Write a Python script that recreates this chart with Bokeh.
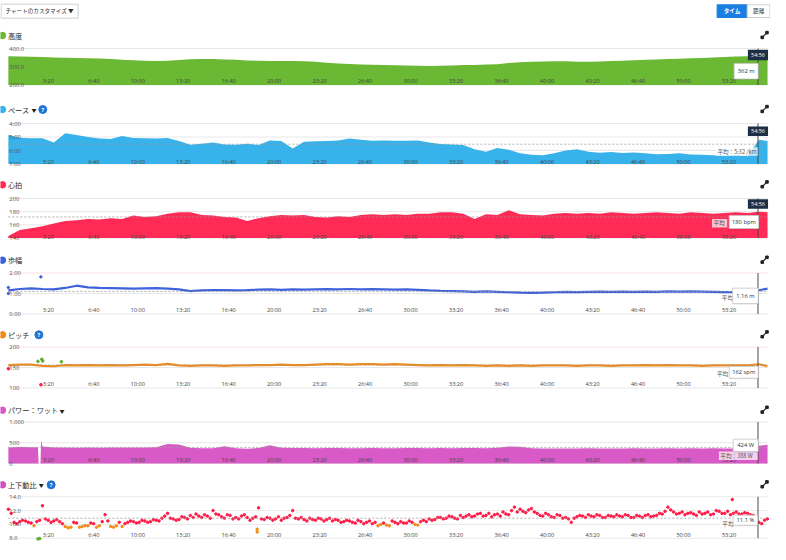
from bokeh.plotting import figure
from bokeh.models import Range1d
from bokeh.core.properties import value
from bokeh.embed import file_html
from bokeh.resources import INLINE

# ---------------- data (time in seconds) ----------------
t_grid = [0, 50, 100, 150, 200, 250, 300, 350, 400, 450, 500, 550, 600, 650, 700, 750,
          800, 850, 900, 950, 1000, 1050, 1100, 1150, 1200, 1250, 1300, 1350, 1400, 1450,
          1500, 1550, 1600, 1650, 1700, 1750, 1800, 1850, 1900, 1950, 2000, 2050, 2100,
          2150, 2200, 2250, 2300, 2350, 2400, 2450, 2500, 2550, 2600, 2650, 2700, 2750,
          2800, 2850, 2900, 2950, 3000, 3050, 3100, 3150, 3200, 3250, 3300, 3338]

elevation_m = [358, 356, 355, 353, 351, 350, 348, 346, 345, 342, 339, 336, 333, 331, 333, 337,
               341, 343, 342, 340, 338, 334, 333, 332, 331, 331, 330, 327, 322, 318,
               315, 313, 311, 309, 308, 307, 305, 304, 305, 307, 309, 310, 312,
               314, 320, 325, 327, 329, 330, 330, 328, 327, 329, 331, 333, 335,
               338, 340, 342, 344, 346, 348, 351, 354, 356, 358, 361, 363]

pace_min_per_km = [4.85, 5.05, 5.10, 5.10, 5.40, 4.72, 4.85, 5.00, 5.12, 5.14, 4.92, 5.08, 5.10, 5.12, 5.08, 5.30,
                   5.57, 5.50, 5.40, 5.55, 5.57, 5.50, 5.60, 5.25, 5.30, 5.85, 5.35, 5.32, 5.30, 5.25,
                   5.12, 5.20, 5.27, 5.25, 5.28, 5.27, 5.25, 5.40, 5.52, 5.55, 5.60, 5.90, 6.10,
                   5.82, 5.95, 6.20, 6.32, 6.35, 6.20, 6.00, 5.90, 6.10, 6.16, 6.12, 6.18, 6.15,
                   6.20, 6.28, 6.25, 6.20, 6.30, 6.32, 6.35, 6.38, 6.35, 6.40, 5.20, 5.30]

heart_rate_bpm = [143, 152, 155, 158, 162, 166, 167, 169, 168, 170, 169, 174, 172, 173, 177, 179,
                  179, 175, 174, 172, 171, 166, 170, 173, 175, 174, 175, 172, 171, 173,
                  172, 175, 176, 175, 176, 175, 177, 177, 179, 179, 177, 169, 176,
                  175, 182, 176, 175, 174, 177, 178, 177, 178, 177, 179, 178, 177,
                  178, 179, 178, 177, 179, 178, 177, 178, 179, 178, 180, 179]

stride_m = [1.15, 1.22, 1.25, 1.22, 1.20, 1.27, 1.38, 1.30, 1.27, 1.26, 1.25, 1.24, 1.25, 1.26, 1.24, 1.20,
            1.12, 1.15, 1.17, 1.16, 1.15, 1.16, 1.19, 1.20, 1.18, 1.20, 1.19, 1.20, 1.21, 1.20,
            1.22, 1.20, 1.21, 1.20, 1.19, 1.20, 1.18, 1.15, 1.13, 1.12, 1.10, 1.08, 1.10,
            1.08, 1.06, 1.04, 1.03, 1.04, 1.06, 1.08, 1.07, 1.08, 1.09, 1.08, 1.09, 1.08,
            1.09, 1.08, 1.10, 1.09, 1.10, 1.09, 1.08, 1.07, 1.06, 1.08, 1.16, 1.24]
stride_extra_t = [0, 0, 143]
stride_extra_m = [1.00, 1.29, 1.81]

cadence_spm = [156, 157, 157, 154, 153, 156, 155, 156, 155, 156, 155, 156, 157, 156, 159, 155,
               154, 155, 155, 154, 155, 155, 156, 156, 157, 156, 156, 157, 158, 158,
               157, 158, 158, 157, 158, 157, 156, 155, 156, 155, 156, 155, 154,
               155, 154, 155, 154, 155, 155, 155, 154, 155, 155, 154, 155, 155,
               156, 155, 156, 155, 155, 154, 155, 155, 155, 155, 158, 153]
cadence_extra_t = [0, 130, 143, 147, 151, 233]
cadence_extra_spm = [147, 165, 108, 170, 166, 164]

power_t = [0, 50, 100, 130, 133, 141, 144, 150,
           200, 250, 300, 350, 400, 450, 500, 550, 600, 650, 700, 750, 800, 850, 900, 950,
           1000, 1050, 1100, 1150, 1200, 1250, 1300, 1350, 1400, 1450, 1500, 1550, 1600, 1650,
           1700, 1750, 1800, 1850, 1900, 1950, 2000, 2050, 2100, 2150, 2200, 2250, 2300, 2350,
           2400, 2450, 2500, 2550, 2600, 2650, 2700, 2750, 2800, 2850, 2900, 2950, 3000, 3050,
           3100, 3150, 3200, 3250, 3300, 3338]
power_w = [388, 395, 392, 390, 0, 0, 560, 410,
           385, 388, 382, 386, 380, 387, 384, 386, 383, 390, 470, 458, 378, 366, 368, 418,
           366, 356, 372, 440, 382, 372, 374, 368, 376, 372, 370, 368, 374, 370,
           368, 373, 376, 370, 372, 368, 372, 376, 370, 380, 412, 402, 366, 362,
           364, 360, 362, 365, 360, 364, 362, 366, 360, 364, 368, 362, 365, 362,
           366, 362, 364, 362, 425, 450]

VR_STEP_S = 25  # recording interval of the vertical-ratio samples
vr_pct_a = [12.2, 10.3, 10.4, 10.5, 10.2, 10.4, 12.7, 10.6, 10.5, 10.4,
            9.7, 9.6, 10.2, 9.7, 9.8, 10.1, 9.8, 11.4, 9.7, 9.8,
            9.7, 10.3, 10.4, 10.3, 10.5, 10.4, 10.6, 10.9, 11.6, 10.8,
            10.7, 11.0, 11.3, 11.5, 11.0, 11.2, 12.0, 11.4, 10.9, 11.3,
            11.0, 11.2, 11.0, 10.9, 12.4, 10.7, 10.9, 10.8, 10.6, 11.0,
            12.0, 10.8, 10.7, 10.9, 10.6, 10.8, 10.7, 10.5, 10.6, 10.4,
            10.5, 10.2, 10.4, 10.3, 10.1, 9.8, 10.2, 9.8, 10.3, 10.4,
            10.2, 10.3, 9.9, 10.6, 10.8, 10.7, 11.0, 10.9, 11.1, 10.8,
            11.0, 11.4, 11.2, 11.6, 11.3, 11.1, 11.5, 11.8, 11.4, 12.5,
            12.2, 11.7, 12.3, 11.6, 11.2, 11.4, 11.0, 11.3, 11.0, 10.3,
            11.1, 11.2, 11.4, 11.1, 11.3, 11.0, 11.2, 11.4, 11.1, 11.3,
            11.0, 11.2, 11.3, 11.1, 11.3, 11.5, 12.5, 11.8, 11.6, 11.4,
            11.7, 11.3, 11.5, 11.8, 11.5, 11.9, 11.6, 11.4, 11.8, 11.5,
            11.6, 11.3, 10.3, 10.6]
vr_pct_b = [11.6, 10.1, 10.6, 10.3, 9.8, 10.6, 10.8, 10.3, 10.7, 10.1,
            9.5, 10.3, 9.6, 9.8, 10.2, 9.6, 10.4, 10.5, 9.6, 10.3,
            10.1, 10.5, 10.2, 10.6, 10.3, 10.7, 10.5, 11.2, 10.9, 10.6,
            11.1, 10.8, 11.0, 11.2, 11.4, 10.9, 11.5, 11.1, 11.4, 10.8,
            10.8, 11.4, 10.6, 11.1, 10.8, 11.0, 10.6, 11.1, 10.9, 11.3,
            10.9, 11.0, 10.5, 10.7, 10.9, 10.5, 10.9, 10.7, 10.3, 10.6,
            10.3, 10.6, 10.1, 10.5, 10.3, 10.0, 9.9, 10.5, 10.1, 10.2,
            10.5, 10.0, 10.4, 10.4, 10.6, 11.0, 10.8, 11.2, 10.9, 11.3,
            11.2, 11.1, 11.5, 11.2, 11.6, 11.4, 11.2, 11.5, 12.0, 11.8,
            11.9, 12.1, 11.8, 11.3, 11.6, 11.1, 11.4, 10.9, 10.8, 10.9,
            11.3, 11.0, 11.2, 11.4, 11.0, 11.3, 11.1, 11.2, 11.4, 11.0,
            11.3, 11.0, 11.4, 11.2, 11.6, 11.9, 12.1, 11.5, 11.8, 11.6,
            11.5, 11.8, 11.6, 11.4, 12.0, 11.6, 11.9, 11.6, 11.5, 11.7,
            11.4, 11.0, 10.1, 10.8]
vr_extra_t = [130, 138, 1094, 1094, 3183]
vr_extra_pct = [7.9, 7.95, 9.3, 8.9, 13.6]

time_ticks = [200, 400, 600, 800, 1000, 1200, 1400, 1600, 1800, 2000, 2200, 2400, 2600, 2800, 3000, 3200]
time_tick_labels = ["3:20", "6:40", "10:00", "13:20", "16:40", "20:00", "23:20", "26:40", "30:00",
                    "33:20", "36:40", "40:00", "43:20", "46:40", "50:00", "53:20"]
T_END = 3338
cursor_t = 3296
cursor_values = ["362 m", "180 bpm", "1.16 m", "162 spm", "424 W", "11.1 %"]
pace_avg_label = "平均：5:32 /km"
pace_avg = 5 + 32 / 60
hr_avg = 172
stride_avg = 1.10
cadence_avg = 156
power_avg = 388
vr_avg = 10.9

# ---------------- colours / fonts ----------------
C_ELEV = "#6ab833"
C_PACE = "#37b2ea"
C_HR = "#ff2a55"
C_STRIDE = "#3e62db"
C_CAD = "#f28a16"
C_POWER = "#d85ac6"
C_VR = "#d14fc0"
Z_RED = "#ff1a47"
Z_ORANGE = "#f08c1a"
Z_GREEN = "#5ab02d"
Z_BLUE = "#2f8be0"
GRID = "#e8e8e8"
PINK = "#fbe0e6"
JP = "Noto Sans CJK JP"
NUM = "Open Sans"


def cadence_zone_color(v):
    if v < 153:
        return Z_RED
    if v < 164:
        return Z_ORANGE
    if v < 174:
        return Z_GREEN
    return Z_BLUE


def vr_zone_color(v):
    if v > 10.0:
        return Z_RED
    if v > 8.6:
        return Z_ORANGE
    return Z_GREEN


# ---------------- layout helpers ----------------
W, H = 770, 544
SX = W / 783.0


def fx(ref_x):
    return (ref_x - 3.0) * SX


PLOT_L = fx(11)
PLOT_R = fx(783)
K = T_END / (PLOT_R - PLOT_L)


def rt(ref_x):          # reference pixel x -> data seconds
    return (fx(ref_x) - PLOT_L) * K


def fy(ref_y):          # reference pixel y -> frame pixel y
    return ref_y - 8.0


p = figure(width=W, height=H, x_range=Range1d(rt(3), rt(786)), y_range=Range1d(H, 0),
           output_backend="svg", toolbar_location=None, min_border=0,
           x_axis_location=None, y_axis_location=None)
p.xgrid.grid_line_color = None
p.ygrid.grid_line_color = None
p.outline_line_color = None
p.background_fill_color = "white"
p.border_fill_color = "white"

panels = [
    dict(name="elev", ticks=[200, 300, 400], labels=["200.0", "300.0", "400.0"], top=(400, 56), bot=(200, 92.5), xlab=88, title="高度", ty=43, color=C_ELEV, toppink=False),
    dict(name="pace", ticks=[4, 5, 6, 7], labels=["4:00", "5:00", "6:00", "7:00"], top=(4, 131), bot=(7, 171.5), xlab=169, title="ペース", ty=117, color=C_PACE, toppink=False),
    dict(name="hr", ticks=[140, 160, 180, 200], labels=["140", "160", "180", "200"], top=(200, 206), bot=(140, 245.5), xlab=244, title="心拍", ty=192.3, color=C_HR, toppink=False),
    dict(name="stride", ticks=[0, 1, 2], labels=["0.00", "1.00", "2.00"], top=(2, 280.5), bot=(0, 321.5), xlab=317.7, title="歩幅", ty=267.7, color=C_STRIDE, toppink=True),
    dict(name="cad", ticks=[100, 150, 200], labels=["100", "150", "200"], top=(200, 354.5), bot=(100, 395.5), xlab=391.7, title="ピッチ", ty=342.3, color=C_CAD, toppink=True),
    dict(name="power", ticks=[0, 500, 1000], labels=["0", "500", "1,000"], top=(1000, 429.5), bot=(0, 471), xlab=467.7, title="パワー：ワット", ty=417.7, color=C_POWER, toppink=False),
    dict(name="vr", ticks=[8, 10, 12, 14], labels=["8.0", "10.0", "12.0", "14.0"], top=(14, 504.3), bot=(8, 545.7), xlab=542, title="上下動比", ty=492.3, color=C_VR, toppink=False),
]

ranges = {}
for pn in panels:
    (vt, ryt), (vb, ryb) = pn["top"], pn["bot"]
    yt, yb = fy(ryt), fy(ryb)
    s = (vb - vt) / (yb - yt)
    ranges[pn["name"]] = Range1d(start=vt + (H - yt) * s, end=vt + (0 - yt) * s)
p.extra_y_ranges = ranges


def txt(xs, ys, texts, size, color="#333", font=NUM, align="left", baseline="middle",
        rn="default", bold=False, x_offset=0):
    p.text(x=xs, y=ys, text=texts, text_font=value(font), text_font_size=f"{size}px",
           text_color=color, text_align=align, text_baseline=baseline,
           text_font_style="bold" if bold else "normal", x_offset=x_offset, y_range_name=rn)


# gridlines
for pn in panels:
    n = len(pn["ticks"])
    cols = [GRID] * n
    if pn["toppink"]:
        cols[pn["ticks"].index(max(pn["ticks"]))] = PINK
    p.segment(x0=[0] * n, x1=[T_END] * n, y0=pn["ticks"], y1=pn["ticks"], line_color=cols,
              line_width=1, y_range_name=pn["name"])

# series
p.varea(x=t_grid, y1=[200] * len(t_grid), y2=elevation_m, fill_color=C_ELEV, y_range_name="elev")
p.varea(x=t_grid, y1=[7] * len(t_grid), y2=pace_min_per_km, fill_color=C_PACE, y_range_name="pace")
p.varea(x=t_grid, y1=[140] * len(t_grid), y2=heart_rate_bpm, fill_color=C_HR, y_range_name="hr")
p.varea(x=power_t, y1=[0] * len(power_t), y2=power_w, fill_color=C_POWER, y_range_name="power")

p.line(t_grid, stride_m, line_color=C_STRIDE, line_width=2.2, y_range_name="stride")
p.scatter(stride_extra_t, stride_extra_m, size=2.4, color=C_STRIDE, y_range_name="stride")

p.line(t_grid, cadence_spm, line_color=C_CAD, line_width=2.2, y_range_name="cad")
p.scatter(cadence_extra_t, cadence_extra_spm, size=2.6, color=[cadence_zone_color(v) for v in cadence_extra_spm], y_range_name="cad")

vr_t_a = [i * VR_STEP_S for i in range(len(vr_pct_a))]
vr_t_b = [i * VR_STEP_S + VR_STEP_S / 2 for i in range(len(vr_pct_b))]
vr_t = vr_t_a + vr_t_b + vr_extra_t
vr_v = vr_pct_a + vr_pct_b + vr_extra_pct
p.scatter(vr_t, vr_v, size=2.5, color=[vr_zone_color(v) for v in vr_v], y_range_name="vr")

# average dashed lines
for name, av in [("pace", pace_avg), ("hr", hr_avg), ("stride", stride_avg), ("cad", cadence_avg), ("power", power_avg), ("vr", vr_avg)]:
    p.segment(x0=[0], x1=[T_END], y0=[av], y1=[av], line_color="#9a9a9a", line_width=0.8,
              line_dash="2 2", y_range_name=name)

# axis labels
for pn in panels:
    n = len(pn["ticks"])
    txt([0] * n, pn["ticks"], pn["labels"], 5.8, color="#555", rn=pn["name"], x_offset=1)
    txt(time_ticks, [fy(pn["xlab"])] * len(time_ticks), time_tick_labels, 5.6, color="#444", align="right")

# cursor lines
for pn in panels:
    p.segment(x0=[cursor_t], x1=[cursor_t], y0=[pn["top"][0]], y1=[pn["bot"][0]], line_color="#4a4a4a",
              line_width=1, y_range_name=pn["name"])

# average labels
avg_boxes = [(pace_avg_label, 730.5, 773, 159.0), ("平均", 726.5, 742, 230.7), ("平均", 735, 750, 305.7),
             ("平均", 730, 745.5, 381.7), (f"平均：{power_avg} W", 733.5, 773, 463.3), ("平均", 735.5, 750, 531.7)]
p.quad(left=[rt(b[1]) for b in avg_boxes], right=[rt(b[2]) for b in avg_boxes],
       top=[fy(b[3] - 4.3) for b in avg_boxes], bottom=[fy(b[3] + 4.3) for b in avg_boxes],
       fill_color="white", fill_alpha=0.72, line_color=None)
txt([rt(b[1] + 1.5) for b in avg_boxes], [fy(b[3]) for b in avg_boxes], [b[0] for b in avg_boxes], 5.6,
    color="#555", font=JP)

# value tooltips at the cursor
tips = [(749, 773.5, 71, 86.5), (744, 774, 223, 236), (747.5, 773.5, 295.7, 311),
        (744, 773.5, 374, 385.7), (748, 773.5, 446.7, 459), (748, 773, 522.7, 532.7)]
p.quad(left=[rt(t[0] + 1) for t in tips], right=[rt(t[1] + 1) for t in tips],
       top=[fy(t[2] + 1) for t in tips], bottom=[fy(t[3] + 1) for t in tips],
       fill_color="black", fill_alpha=0.12, line_color=None)
p.quad(left=[rt(t[0]) for t in tips], right=[rt(t[1]) for t in tips],
       top=[fy(t[2]) for t in tips], bottom=[fy(t[3]) for t in tips],
       fill_color="white", line_color="#c8c8c8", line_width=0.8)
txt([rt((t[0] + t[1]) / 2) for t in tips], [fy((t[2] + t[3]) / 2) for t in tips], cursor_values, 5.8,
    color="#333", align="center")

# cursor time boxes
cursor_label = f"{cursor_t // 60}:{cursor_t % 60:02d}"
cb = [(57.3, 67.7), (134, 143.5), (206.7, 216.3)]
p.quad(left=[rt(763)] * 3, right=[rt(783.5)] * 3, top=[fy(c[0]) for c in cb], bottom=[fy(c[1]) for c in cb],
       fill_color="#1c2f45", line_color=None)
txt([cursor_t] * 3, [fy((c[0] + c[1]) / 2) for c in cb], [cursor_label] * 3, 5.4, color="white", align="center")

# panel titles
p.scatter([rt(5)] * len(panels), [fy(pn["ty"]) for pn in panels], size=6.5,
          color=[pn["color"] for pn in panels])
txt([rt(10.5)] * len(panels), [fy(pn["ty"]) for pn in panels], [pn["title"] for pn in panels], 7.2,
    color="#2a2a2a", font=JP)
txt([rt(37), rt(65.5), rt(44.5)], [fy(117), fy(417.7), fy(492.3)], ["▼", "▼", "▼"], 5.0,
    color="#222", font=JP, align="center")
q_xy = [(46, 117), (42, 342.3), (54.5, 492.3)]
p.scatter([rt(q[0]) for q in q_xy], [fy(q[1]) for q in q_xy], size=8, color="#1f74d6")
txt([rt(q[0]) for q in q_xy], [fy(q[1]) for q in q_xy], ["?"] * 3, 5.6, color="white", align="center", bold=True)

# expand icons
ex_y = [pn["ty"] - 0.5 for pn in panels]
p.segment(x0=[rt(777.8)] * 7, x1=[rt(782.2)] * 7, y0=[fy(y + 2.2) for y in ex_y], y1=[fy(y - 2.2) for y in ex_y],
          line_color="#222", line_width=1.1)
p.scatter([rt(777.6)] * 7 + [rt(782.4)] * 7, [fy(y + 2.4) for y in ex_y] + [fy(y - 2.4) for y in ex_y],
          size=2.6, marker="square", color="#222")

# header controls
p.quad(left=[rt(3.6)], right=[rt(82)], top=[fy(11.7)], bottom=[fy(25.7)], fill_color="white",
       line_color="#cfcfcf", line_width=1)
txt([rt(8)], [fy(18.8)], ["チャートのカスタマイズ ▼"], 5.6, color="#333", font=JP)
p.quad(left=[rt(731.7)], right=[rt(762.3)], top=[fy(12.3)], bottom=[fy(25)], fill_color="#1a7ee3", line_color="#1a7ee3")
p.quad(left=[rt(762.3)], right=[rt(785.4)], top=[fy(12.3)], bottom=[fy(25)], fill_color="white", line_color="#cfcfcf")
txt([rt(747)], [fy(18.8)], ["タイム"], 5.6, color="white", font=JP, align="center", bold=True)
txt([rt(774)], [fy(18.8)], ["距離"], 5.6, color="#333", font=JP, align="center")

open("out.html", "w").write(file_html(p, INLINE))
